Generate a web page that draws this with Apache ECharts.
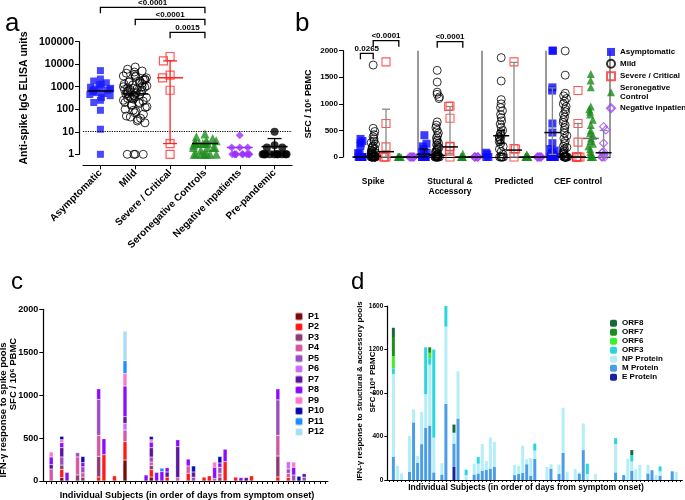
<!DOCTYPE html>
<html>
<head>
<meta charset="utf-8">
<script src="https://cdn.jsdelivr.net/npm/echarts@6/dist/echarts.min.js"></script>
<style>
html, body { margin: 0; padding: 0; background: #fff; }
#main { width: 685px; height: 500px; }
</style>
</head>
<body>
<div id="main"></div>
<script>
// ---------- panel a : anti-spike IgG (log scale) ----------
const aGroups = ['Asymptomatic', 'Mild', 'Severe / Critical', 'Seronegative Controls', 'Negative inpatients', 'Pre-pandemic'];
const aAsym = [5200, 2200, 1800, 1500, 1300, 1200, 1000, 950, 850, 800, 750, 700, 700, 650, 600, 550, 500, 450, 400, 330, 250, 200, 90, 13, 1];
const aMild = [7500, 6000, 5000, 4500, 4000, 3500, 3000, 3000, 2800, 2500, 2200, 2000, 2000, 1800, 1700, 1600, 1500, 1400, 1300, 1200,
  1100, 1000, 1000, 950, 900, 850, 800, 750, 700, 700, 650, 600, 600, 550, 500, 500, 480, 450, 420, 400,
  380, 350, 330, 300, 300, 280, 250, 230, 200, 200, 180, 160, 150, 130, 120, 100, 90, 80, 70, 60,
  50, 45, 40, 35, 30, 25, 1, 1, 1, 1];
const aSevere = [22000, 14000, 3300, 2500, 700, 3, 1];
const aSeroneg = [8, 6, 5, 4, 4, 3.5, 3, 3, 3, 3, 3, 3, 2.5, 2, 2, 2, 2, 1.5, 1, 1, 1, 1, 1, 1, 1, 1];
const aNegInp = [7, 2, 2, 2, 1, 1, 1, 1, 1, 1, 1, 1, 1];
const aPrePan = [10, 2.5, 2, 2, 1, 1, 1, 1, 1, 1, 1, 1, 1, 1, 1];
// [group, median, low, high]
const aStats = [[0, 650, 650, 650], [1, 480, 480, 480], [2, 2500, 3, 14000], [3, 3, 3, 3], [4, 2, 2, 2], [5, 2.2, 1, 5]];
const aBrackets = [[0, 3, '<0.0001'], [1, 3, '<0.0001'], [2, 3, '0.0015']];

// ---------- panel b : ELISpot by antigen pool ----------
const bPools = ['Spike', 'Stuctural &\nAccessory', 'Predicted', 'CEF control'];
const bPoolLabelSlot = [1, 7, 12, 17];
const bNames = ['Asymptomatic', 'Mild', 'Severe / Critical', 'Seronegative\nControl', 'Negative inpatient'];
// each: [spike, structural, predicted, CEF]
const bAsym = [
  [0, 0, 0, 0, 0, 0, 0, 0, 0, 0, 0, 0, 70, 70, 210, 260, 300, 340],
  [0, 0, 0, 0, 0, 0, 0, 0, 0, 50, 80, 100, 150, 200, 250, 410],
  [0, 0, 50, 80],
  [2000, 2000, 1310, 1250, 630, 460, 260, 150, 120, 90, 60, 40, 20, 0, 0, 0, 0, 0, 0, 0]
];
const bMild = [
  [1730, 540, 480, 420, 380, 340, 300, 270, 240, 210, 190, 170, 150, 130, 110, 100, 90, 80, 70, 60, 50, 40, 30, 20, 10, 0, 0, 0, 0, 0, 0, 0, 0, 0, 0, 0],
  [1630, 1410, 1220, 1180, 1130, 1100, 660, 600, 550, 500, 450, 400, 360, 320, 290, 260, 230, 200, 180, 160, 140, 120, 100, 80, 60, 50, 40, 30, 20, 10, 0, 0, 0, 0, 0, 0, 0, 0],
  [1870, 1430, 1080, 1000, 930, 870, 800, 740, 680, 620, 560, 500, 460, 430, 400, 380, 350, 320, 290, 250, 200, 150, 100, 50, 0, 0, 0, 0, 0],
  [1995, 1540, 1200, 1150, 1100, 1050, 1000, 950, 900, 850, 800, 750, 700, 650, 600, 550, 500, 450, 400, 350, 300, 250, 200, 180, 150, 130, 100, 80, 60, 40, 20, 0, 0, 0, 0, 0, 0, 0, 0, 0, 0]
];
const bSevere = [
  [1790, 630, 190, 0, 0, 0],
  [960, 950, 730, 200, 190, 110, 0],
  [1790, 160, 150, 0],
  [1250, 630, 280, 0, 0, 0, 0, 0]
];
const bSeroneg = [
  [0, 0, 0, 0, 0, 0, 0, 0],
  [60, 0, 0, 0, 0, 0, 0, 0],
  [50, 0, 0, 0, 0, 0, 0],
  [1560, 1440, 1310, 950, 900, 850, 800, 700, 600, 500, 450, 400, 350, 300, 250, 200, 150, 100, 50, 0, 0, 0]
];
const bNeg = [
  [0, 0, 0, 0, 0, 0],
  [0, 0, 0, 0, 0, 0],
  [0, 0, 0, 0, 0, 0],
  [570, 510, 260, 100, 80, 50, 0, 0, 0]
];
// [slot, median, low, high]  slot = pool*5 + group
const bStats = [
  [0, 0, 0, 0], [1, 15, 15, 15], [2, 100, 0, 900], [3, 0, 0, 0], [4, 0, 0, 0],
  [5, 50, 0, 150], [6, 30, 30, 30], [7, 190, 60, 950], [8, 0, 0, 0], [9, 0, 0, 0],
  [11, 400, 250, 500], [12, 130, 0, 1780], [13, 0, 0, 0], [14, 0, 0, 0],
  [15, 460, 50, 1300], [16, 10, 10, 10], [17, 0, 0, 630], [18, 350, 350, 350], [19, 80, 0, 500]
];
const bGrayBars = [2, 7, 12, 15, 17, 18, 19];
const bBrackets = [[0, 1, '0.0265'], [1, 3, '<0.0001'], [6, 8, '<0.0001']];

// ---------- panel c : spike pools per subject ----------
const cPools = ['P1', 'P2', 'P3', 'P4', 'P5', 'P6', 'P7', 'P8', 'P9', 'P10', 'P11', 'P12'];
const cSubjects = 54;
// [subject slot, P1..P12]
const cRows = [
  [1, 0, 0, 0, 140, 0, 0, 50, 90, 58, 0, 0, 0],
  [3, 40, 95, 50, 0, 95, 0, 108, 58, 35, 39, 0, 0],
  [4, 0, 0, 0, 0, 0, 0, 0, 100, 0, 0, 0, 0],
  [6, 0, 0, 70, 210, 50, 0, 0, 0, 0, 0, 0, 0],
  [7, 0, 0, 45, 50, 70, 0, 0, 50, 0, 70, 0, 0],
  [10, 0, 47, 240, 244, 419, 0, 0, 124, 0, 0, 0, 0],
  [11, 0, 306, 0, 0, 0, 0, 0, 186, 0, 0, 0, 0],
  [13, 0, 60, 0, 0, 0, 0, 0, 0, 0, 0, 0, 0],
  [15, 244, 213, 0, 137, 0, 77, 78, 357, 147, 0, 147, 345],
  [19, 0, 0, 0, 0, 0, 0, 0, 70, 0, 0, 0, 0],
  [20, 46, 85, 50, 40, 58, 0, 108, 66, 27, 39, 0, 0],
  [21, 0, 0, 0, 0, 0, 0, 0, 100, 0, 0, 0, 0],
  [22, 0, 0, 0, 0, 0, 0, 0, 110, 0, 0, 40, 0],
  [23, 0, 45, 0, 0, 0, 0, 60, 50, 0, 0, 0, 0],
  [25, 0, 0, 0, 40, 0, 0, 360, 80, 0, 0, 0, 0],
  [27, 0, 90, 0, 85, 0, 0, 0, 80, 0, 0, 0, 0],
  [28, 0, 0, 0, 0, 45, 0, 60, 0, 0, 70, 0, 0],
  [30, 0, 45, 0, 0, 0, 0, 0, 0, 0, 0, 0, 0],
  [31, 0, 60, 0, 0, 0, 0, 0, 0, 0, 0, 0, 0],
  [32, 0, 0, 0, 30, 0, 0, 0, 130, 60, 0, 0, 0],
  [33, 0, 0, 45, 45, 70, 0, 0, 50, 0, 75, 0, 0],
  [34, 0, 225, 0, 0, 0, 0, 0, 145, 0, 0, 0, 0],
  [36, 0, 45, 0, 0, 0, 0, 0, 0, 0, 0, 0, 0],
  [37, 0, 0, 0, 0, 0, 0, 0, 40, 0, 0, 0, 0],
  [38, 0, 0, 0, 0, 0, 0, 40, 0, 0, 0, 0, 0],
  [39, 0, 60, 0, 0, 0, 0, 0, 0, 0, 0, 0, 0],
  [44, 0, 47, 244, 240, 414, 0, 0, 128, 0, 0, 0, 0],
  [46, 0, 40, 0, 50, 50, 85, 0, 0, 0, 0, 0, 0],
  [47, 0, 0, 0, 0, 70, 0, 0, 90, 60, 0, 0, 0],
  [48, 0, 0, 0, 0, 0, 0, 0, 0, 0, 55, 0, 0],
  [49, 0, 0, 0, 0, 45, 0, 40, 0, 0, 0, 0, 0]
];

// ---------- panel d : structural & accessory pools per subject ----------
const dPools = ['E Protein', 'M Protein', 'NP Protein', 'ORF3', 'ORF6', 'ORF7', 'ORF8'];
const dSubjects = 73;
// [subject slot, E, M, NP, ORF3, ORF6, ORF7, ORF8]
const dRows = [
  [1, 0, 215, 760, 50, 115, 175, 85], [2, 0, 0, 130, 0, 0, 0, 0], [3, 0, 0, 60, 0, 0, 0, 0],
  [5, 0, 75, 330, 0, 0, 0, 0], [6, 0, 530, 120, 0, 0, 0, 0], [7, 0, 160, 60, 0, 0, 0, 0],
  [8, 0, 330, 295, 0, 0, 0, 0], [9, 0, 480, 310, 430, 0, 0, 0], [10, 0, 500, 560, 60, 50, 50, 0],
  [11, 0, 70, 320, 810, 0, 0, 0], [13, 0, 50, 105, 0, 0, 0, 0], [14, 0, 700, 710, 190, 0, 0, 0],
  [16, 120, 215, 100, 0, 0, 0, 75], [17, 0, 565, 435, 0, 0, 0, 0], [19, 0, 0, 45, 50, 0, 0, 0],
  [21, 0, 50, 100, 0, 0, 0, 0], [22, 0, 60, 90, 60, 0, 0, 0], [23, 0, 85, 245, 0, 0, 0, 0],
  [24, 0, 95, 80, 0, 0, 0, 0], [25, 0, 105, 285, 0, 0, 0, 0], [26, 0, 120, 230, 0, 0, 0, 0],
  [31, 0, 45, 95, 0, 0, 0, 0], [32, 0, 55, 75, 0, 0, 0, 0], [33, 0, 65, 250, 0, 0, 0, 0],
  [34, 0, 145, 45, 0, 0, 0, 0], [35, 0, 40, 160, 0, 0, 0, 0], [36, 0, 195, 75, 65, 0, 0, 0],
  [39, 0, 0, 120, 0, 0, 0, 0], [40, 0, 105, 40, 0, 0, 0, 0], [42, 0, 55, 85, 0, 0, 0, 0],
  [43, 0, 250, 415, 0, 0, 0, 0], [44, 0, 0, 75, 0, 0, 0, 0], [46, 0, 0, 100, 0, 0, 0, 0],
  [47, 0, 60, 10, 0, 0, 0, 0], [48, 0, 275, 245, 0, 0, 0, 0], [49, 0, 0, 55, 95, 0, 0, 0],
  [51, 0, 0, 55, 0, 0, 0, 0], [56, 0, 70, 260, 55, 0, 0, 0], [58, 0, 45, 0, 0, 0, 0, 0],
  [59, 0, 0, 195, 0, 0, 0, 0], [60, 0, 85, 85, 60, 0, 0, 45], [61, 0, 0, 100, 0, 0, 0, 0],
  [62, 0, 0, 140, 0, 0, 0, 0], [64, 0, 60, 80, 0, 0, 0, 0], [65, 0, 90, 0, 0, 0, 0, 0],
  [66, 0, 0, 45, 0, 0, 0, 0], [67, 0, 40, 40, 45, 0, 0, 0], [70, 0, 80, 0, 0, 0, 0, 0],
  [71, 0, 0, 75, 0, 0, 0, 0]
];

// ---------- styling ----------
const FONT = 'Liberation Sans, Arial, Helvetica, sans-serif';
const cColors = ['#7d0a0a', '#ff1a1a', '#8e3a73', '#d35aa2', '#9a4fc0', '#cf6cff', '#5b139e', '#8a0dff', '#ff77c8', '#0a0ab0', '#1f8cff', '#aadcf6'];
const dColors = ['#16239a', '#4a9de6', '#b4eef8', '#28d6dc', '#3cf02a', '#1f8c1f', '#186a3b'];
const aStyle = [
  { symbol: 'rect', symbolSize: 7, itemStyle: { color: '#1a1aff' } },
  { symbol: 'circle', symbolSize: 8, itemStyle: { color: 'rgba(255,255,255,0)', borderColor: '#000', borderWidth: 1 } },
  { symbol: 'rect', symbolSize: 8, itemStyle: { color: 'rgba(255,255,255,0)', borderColor: '#ff3030', borderWidth: 1.2 } },
  { symbol: 'triangle', symbolSize: 9, itemStyle: { color: '#1f8f1f' } },
  { symbol: 'diamond', symbolSize: 8, itemStyle: { color: '#9b30ff' } },
  { symbol: 'circle', symbolSize: 8, itemStyle: { color: '#000' } }
];
const bStyle = [
  { symbol: 'rect', symbolSize: 8, itemStyle: { color: '#0a0aff' } },
  { symbol: 'circle', symbolSize: 8, itemStyle: { color: 'rgba(255,255,255,0)', borderColor: '#000', borderWidth: 1 } },
  { symbol: 'rect', symbolSize: 8, itemStyle: { color: 'rgba(255,255,255,0)', borderColor: '#ff3030', borderWidth: 1.1 } },
  { symbol: 'triangle', symbolSize: 8, itemStyle: { color: '#1a8a1a' } },
  { symbol: 'diamond', symbolSize: 8, itemStyle: { color: 'rgba(255,255,255,0)', borderColor: '#a040ff', borderWidth: 1.1 } }
];

const axisBlack = { lineStyle: { color: '#000', width: 1.2 } };
const boldLabel = (size) => ({ color: '#000', fontWeight: 'bold', fontSize: size, fontFamily: FONT });

function errorBars(halfW, capW, barColor) {
  return function (params, api) {
    const x = api.value(0);
    const m = api.coord([x, api.value(1)]);
    const lo = api.coord([x, api.value(2)]);
    const hi = api.coord([x, api.value(3)]);
    const col = api.visual('color');
    const bc = barColor(params.dataIndex, col);
    const kids = [];
    if (Math.abs(hi[1] - lo[1]) > 0.5) {
      kids.push({ type: 'line', shape: { x1: m[0], y1: lo[1], x2: m[0], y2: hi[1] }, style: { stroke: bc, lineWidth: 1.3 } });
      kids.push({ type: 'line', shape: { x1: m[0] - capW, y1: lo[1], x2: m[0] + capW, y2: lo[1] }, style: { stroke: bc, lineWidth: 1.3 } });
      kids.push({ type: 'line', shape: { x1: m[0] - capW, y1: hi[1], x2: m[0] + capW, y2: hi[1] }, style: { stroke: bc, lineWidth: 1.3 } });
    }
    kids.push({ type: 'line', shape: { x1: m[0] - halfW, y1: m[1], x2: m[0] + halfW, y2: m[1] }, style: { stroke: col, lineWidth: 1.5 } });
    return { type: 'group', children: kids };
  };
}

const series = [];

// panel a scatter
[aAsym, aMild, aSevere, aSeroneg, aNegInp, aPrePan].forEach((vals, g) => {
  series.push(Object.assign({
    type: 'scatter', name: 'a-' + aGroups[g], xAxisIndex: 0, yAxisIndex: 0,
    data: vals.map(v => [g, v]), z: 3
  }, aStyle[g]));
});
series[0].markLine = {
  silent: true, symbol: 'none', label: { show: false },
  lineStyle: { color: '#000', type: 'dotted', width: 1.2 },
  data: [{ yAxis: 11 }]
};
const aStatColor = ['#000', '#000', '#ff2020', '#000', '#9b30ff', '#000'];
series.push({
  type: 'custom', name: 'a-stats', xAxisIndex: 0, yAxisIndex: 0, z: 5,
  encode: { x: 0, y: 1 },
  data: aStats.map((s, i) => ({ value: s, itemStyle: { color: aStatColor[i] } })),
  renderItem: errorBars(13, 7, (i, c) => c)
});

// panel b scatter
[bAsym, bMild, bSevere, bSeroneg, bNeg].forEach((pools, g) => {
  const data = [];
  pools.forEach((vals, p) => vals.forEach(v => data.push([p * 5 + g, v])));
  series.push(Object.assign({
    type: 'scatter', name: bNames[g], xAxisIndex: 1, yAxisIndex: 1, data: data, z: 3
  }, bStyle[g]));
});
series.push({
  type: 'custom', name: 'b-stats', xAxisIndex: 1, yAxisIndex: 1, z: 5,
  encode: { x: 0, y: 1 },
  data: bStats.map(s => ({ value: s, itemStyle: { color: s[0] === 18 ? '#666' : '#000' } })),
  renderItem: errorBars(8, 4, (i, c) => bGrayBars.indexOf(bStats[i][0]) >= 0 ? '#888' : c)
});

// panel c stacked bars
cPools.forEach((p, k) => {
  const data = new Array(cSubjects).fill(null);
  cRows.forEach(r => { if (r[k + 1]) data[r[0]] = r[k + 1]; });
  series.push({
    type: 'bar', name: p, stack: 'c', xAxisIndex: 2, yAxisIndex: 2, barWidth: 4,
    itemStyle: { color: cColors[k], borderColor: 'rgba(255,255,255,0.6)', borderWidth: 0.4 },
    data: data
  });
});

// panel d stacked bars
dPools.forEach((p, k) => {
  const data = new Array(dSubjects).fill(null);
  dRows.forEach(r => { if (r[k + 1]) data[r[0]] = r[k + 1]; });
  series.push({
    type: 'bar', name: p, stack: 'd', xAxisIndex: 3, yAxisIndex: 3, barWidth: 3,
    itemStyle: { color: dColors[k] },
    data: data
  });
});

const numFmt = v => String(Math.round(v));

const option = {
  animation: false,
  backgroundColor: '#fff',
  textStyle: { fontFamily: FONT },
  grid: [
    { left: 83, top: 41.7, width: 209, height: 112.6, outerBoundsMode: 'none', containLabel: false },
    { left: 354, top: 50.7, width: 256, height: 106.3, outerBoundsMode: 'none', containLabel: false },
    { left: 43.3, top: 309.3, width: 284.6, height: 171.7, outerBoundsMode: 'none', containLabel: false },
    { left: 387.3, top: 306, width: 295, height: 174, outerBoundsMode: 'none', containLabel: false }
  ],
  xAxis: [
    {
      type: 'category', gridIndex: 0, data: aGroups, offset: 11,
      jitter: 24, jitterOverlap: false, jitterMargin: 0,
      axisLine: axisBlack,
      axisTick: { show: true, alignWithLabel: true, length: 4, lineStyle: { color: '#000' } },
      axisLabel: Object.assign({ rotate: 45, interval: 0, margin: 6 }, boldLabel(10)),
      splitLine: { show: false }
    },
    {
      type: 'category', gridIndex: 1, data: bNames.concat(bNames, bNames, bNames).map((n, i) => 'b' + i), offset: 10,
      jitter: 11, jitterOverlap: false, jitterMargin: 0,
      axisLine: axisBlack,
      axisTick: { show: false },
      axisLabel: Object.assign({
        interval: 0, margin: 10, lineHeight: 10,
        formatter: (v, i) => {
          const p = bPoolLabelSlot.indexOf(i);
          return p >= 0 ? bPools[p] : '';
        }
      }, boldLabel(8.5)),
      splitLine: { show: true, interval: (i) => i > 0 && i % 5 === 0, lineStyle: { color: '#777', width: 1.5 } }
    },
    {
      type: 'category', gridIndex: 2, data: Array.from({ length: cSubjects }, (_, i) => 'c' + i),
      axisLine: axisBlack,
      axisTick: { show: true, alignWithLabel: true, interval: 0, length: 3, lineStyle: { color: '#000' } },
      axisLabel: { show: false }
    },
    {
      type: 'category', gridIndex: 3, data: Array.from({ length: dSubjects }, (_, i) => 'd' + i),
      axisLine: axisBlack,
      axisTick: { show: true, alignWithLabel: true, interval: 0, length: 2, lineStyle: { color: '#000' } },
      axisLabel: { show: false }
    }
  ],
  yAxis: [
    {
      type: 'log', gridIndex: 0, min: 1, max: 100000, logBase: 10, offset: 4,
      axisLine: Object.assign({ show: true }, axisBlack),
      axisTick: { show: true, length: 4, lineStyle: { color: '#000' } },
      axisLabel: Object.assign({ margin: 5, formatter: numFmt }, boldLabel(10.5)),
      splitLine: { show: false },
      name: 'Anti-spike IgG ELISA units', nameLocation: 'middle', nameGap: 49,
      nameTextStyle: boldLabel(10.5)
    },
    {
      type: 'value', gridIndex: 1, min: 0, max: 2000, interval: 500, offset: 11,
      axisLine: Object.assign({ show: true }, axisBlack),
      axisTick: { show: true, length: 4, lineStyle: { color: '#000' } },
      axisLabel: Object.assign({ margin: 5, formatter: numFmt }, boldLabel(8)),
      splitLine: { show: false },
      name: 'SFC / 10\u2076 PBMC', nameLocation: 'middle', nameGap: 30,
      nameTextStyle: boldLabel(9)
    },
    {
      type: 'value', gridIndex: 2, min: 0, max: 2000, interval: 500,
      axisLine: Object.assign({ show: true }, axisBlack),
      axisTick: { show: true, length: 4, lineStyle: { color: '#000' } },
      axisLabel: Object.assign({ margin: 5, formatter: numFmt }, boldLabel(9)),
      splitLine: { show: false }
    },
    {
      type: 'value', gridIndex: 3, min: 0, max: 1600, interval: 400,
      axisLine: Object.assign({ show: true }, axisBlack),
      axisTick: { show: true, length: 3, lineStyle: { color: '#000' } },
      axisLabel: Object.assign({ margin: 4, formatter: numFmt }, boldLabel(6.5)),
      splitLine: { show: false }
    }
  ],
  legend: [
    {
      data: bNames, orient: 'vertical', left: 601, top: 42.7, itemWidth: 8, itemHeight: 8, itemGap: 2.5,
      selectedMode: false, textStyle: Object.assign({ lineHeight: 8.5 }, boldLabel(8))
    },
    {
      data: cPools, orient: 'vertical', left: 289, top: 306.5, itemWidth: 8, itemHeight: 8, itemGap: 0.5,
      selectedMode: false, textStyle: Object.assign({ lineHeight: 9 }, boldLabel(9))
    },
    {
      data: dPools.slice().reverse(), orient: 'vertical', left: 605, top: 314.2, itemWidth: 7, itemHeight: 7, itemGap: 1,
      selectedMode: false, textStyle: Object.assign({ lineHeight: 8 }, boldLabel(8))
    }
  ],
  series: series
};

const chart = echarts.init(document.getElementById('main'));
chart.setOption(option);

// annotations: panel letters, extra axis titles, significance brackets
function txt(s, x, y, size, weight, rot, align) {
  return {
    type: 'text', x: x, y: y, rotation: rot || 0,
    style: {
      text: s, fill: '#000', fontSize: size, fontWeight: weight, fontFamily: FONT,
      align: align || 'center', verticalAlign: 'middle', textAlign: align || 'center', textVerticalAlign: 'middle'
    }
  };
}
function bracket(ax, b, y) {
  const x1 = chart.convertToPixel({ xAxisIndex: ax }, b[0]);
  const x2 = chart.convertToPixel({ xAxisIndex: ax }, b[1]);
  return [
    { type: 'polyline', shape: { points: [[x1, y + 6], [x1, y], [x2, y], [x2, y + 6]] }, style: { stroke: '#000', lineWidth: 1.3, fill: null } },
    txt(b[2], (x1 + x2) / 2, y - 5, 8, 'bold')
  ];
}
const aBracketY = [7.3, 19.3, 32.3];
const bBracketY = [53.3, 40.7, 41.7];
let g = [
  txt('a', 5, 23.6, 26, 'normal', 0, 'left'),
  txt('b', 295, 23.6, 26, 'normal', 0, 'left'),
  txt('c', 11, 282.3, 24, 'normal', 0, 'left'),
  txt('d', 351, 282.3, 24, 'normal', 0, 'left'),
  txt('IFN-\u03b3 response to spike pools', 3.5, 410, 9.5, 'bold', Math.PI / 2),
  txt('SFC / 10\u2076 PBMC', 13.5, 374, 9.5, 'bold', Math.PI / 2),
  txt('IFN-\u03b3 response to structural & accessory pools', 360, 391, 8, 'bold', Math.PI / 2),
  txt('SFC / 10\u2076 PBMC', 372.5, 382, 8, 'bold', Math.PI / 2),
  txt('Individual Subjects (in order of days from symptom onset)', 187, 495, 9.2, 'bold'),
  txt('Individual Subjects (in order of days from symptom onset)', 526, 487.5, 8.5, 'bold')
];
aBrackets.forEach((b, i) => { g = g.concat(bracket(0, b, aBracketY[i])); });
bBrackets.forEach((b, i) => { g = g.concat(bracket(1, b, bBracketY[i])); });
chart.setOption({ graphic: g });
</script>
</body>
</html>
